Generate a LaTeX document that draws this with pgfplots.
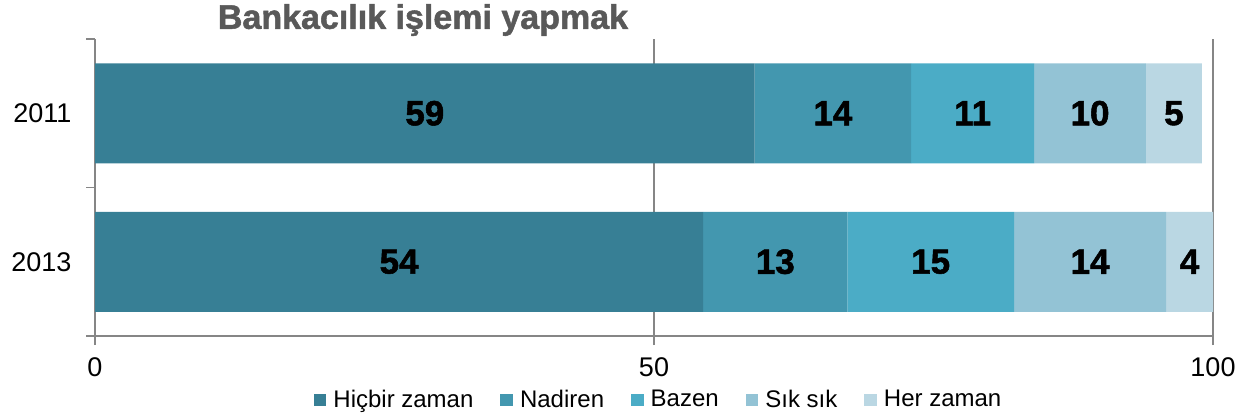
\documentclass[border=0pt]{standalone}
\usepackage{pgfplots}
\pgfplotsset{compat=1.18}
\usepackage{fontspec}
\setmainfont{Liberation Sans}
\newfontfamily\heavy{Liberation Sans}[BoldFeatures={FakeBold=1.5}]
\definecolor{c1}{HTML}{377F95}
\definecolor{c2}{HTML}{4397AF}
\definecolor{c3}{HTML}{4BACC6}
\definecolor{c4}{HTML}{93C3D5}
\definecolor{c5}{HTML}{BAD7E3}
\definecolor{axgray}{HTML}{868686}
\definecolor{titlegray}{HTML}{595959}
\begin{document}
\begin{tikzpicture}[x=1pt,y=1pt]
\useasboundingbox (0,0) rectangle (627,209.5);
\begin{axis}[
  at={(47.5pt,41.5pt)}, anchor=south west,
  scale only axis, width=559pt, height=148.5pt,
  xbar stacked, bar width=50pt,
  xmin=0, xmax=100, ymin=-0.5, ymax=1.5,
  xtick={0,50,100},
  /pgf/number format/assume math mode=true,
  ytick={-0.5,0.5,1.5}, yticklabels={},
  extra y ticks={0,1}, extra y tick labels={2013,2011},
  extra y tick style={tick style={draw=none}, yticklabel style={xshift=-3.8pt}},
  axis x line*=bottom, axis y line*=left,
  axis line style={draw=axgray, line width=0.6pt, -},
  xmajorgrids, major grid style={draw=axgray, line width=0.6pt},
  tick align=outside, major tick length=4.5pt,
  tick style={draw=axgray, line width=0.6pt},
  ticklabel style={font=\fontsize{13.5}{15}\selectfont},
  xticklabel style={yshift=-3pt},
  every axis plot/.append style={draw=none},
  point meta=explicit symbolic,
  nodes near coords,
  every node near coord/.append style={anchor=center,
     font=\heavy\bfseries\fontsize{17.5}{20}\selectfont, text=black},
  legend columns=5,
  legend style={draw=none, fill=none, at={(0.505,-0.2155)}, anchor=center,
     font=\fontsize{12}{14}\selectfont,
     /tikz/every odd column/.append style={column sep=1.5pt},
     /tikz/every even column/.append style={column sep=11.5pt}},
  legend image code/.code={\fill[#1] (0pt,-3.2pt) rectangle (6.3pt,3.2pt);},
]
\addplot[fill=c1] coordinates {(54.4,0) [54] (59,1) [59]};
\addplot[fill=c2] coordinates {(12.9,0) [13] (14,1) [14]};
\addplot[fill=c3] coordinates {(14.9,0) [15] (11,1) [11]};
\addplot[fill=c4] coordinates {(13.6,0) [14] (10,1) [10]};
\addplot[fill=c5] coordinates {(4.2,0) [4] (5,1) [5]};
\legend{Hiçbir zaman, Nadiren, Bazen, Sık sık, Her zaman}
\end{axis}
\node[font=\heavy\bfseries\fontsize{17}{19}\selectfont, text=titlegray] at (211.5,199.5) {Bankacılık işlemi yapmak};
\end{tikzpicture}
\end{document}
